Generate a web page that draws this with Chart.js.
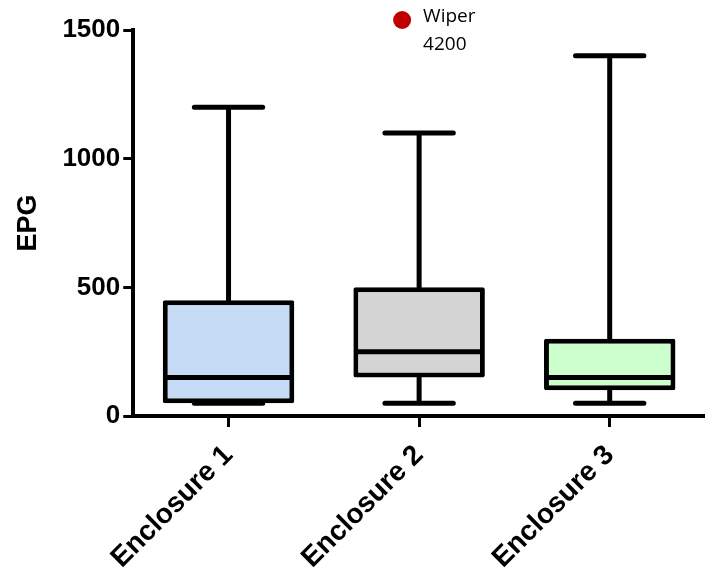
<!DOCTYPE html>
<html>
<head>
<meta charset="UTF-8">
<title>EPG by enclosure</title>
<script src="https://cdn.jsdelivr.net/npm/chart.js@4.4.1/dist/chart.umd.min.js"></script>
<style>
  html, body { margin: 0; padding: 0; background: #fff; }
  #wrap { width: 705px; height: 577px; }
</style>
</head>
<body>
<div id="wrap"><canvas id="chart"></canvas></div>
<script>
// box plot values (EPG)
var categories = ['Enclosure 1', 'Enclosure 2', 'Enclosure 3'];
var minValues = [50, 50, 50];
var q1Values = [50, 150, 100];
var medianValues = [150, 250, 150];
var q3Values = [450, 500, 300];
var maxValues = [1200, 1100, 1400];
var yTicks = [0, 500, 1000, 1500];
var boxColors = ['#c6dcf6', '#d4d4d4', '#ccffcc'];

// off-scale outlier, shown as a note above enclosure 2
var outlierIndex = 1;
var outlierValue = 4200;
var outlierName = 'Wiper';

var boxPlot = {
  id: 'boxPlot',
  beforeDatasetsDraw: function(chart) {
    var ctx = chart.ctx, x = chart.scales.x, y = chart.scales.y;
    var bars = chart.getDatasetMeta(0).data;
    ctx.save();
    ctx.strokeStyle = '#000';
    ctx.lineWidth = 5;
    ctx.lineCap = 'round';
    for (var i = 0; i < categories.length; i++) {
      var cx = x.getPixelForValue(i);
      var cap = bars[i].width * 0.26;
      var yMax = y.getPixelForValue(maxValues[i]);
      var yMin = y.getPixelForValue(minValues[i]);
      ctx.beginPath();
      ctx.moveTo(cx, yMax); ctx.lineTo(cx, y.getPixelForValue(q3Values[i]));
      ctx.moveTo(cx - cap, yMax); ctx.lineTo(cx + cap, yMax);
      ctx.moveTo(cx, yMin); ctx.lineTo(cx, y.getPixelForValue(q1Values[i]));
      ctx.moveTo(cx - cap, yMin); ctx.lineTo(cx + cap, yMin);
      ctx.stroke();
    }
    ctx.restore();
  },
  afterDatasetsDraw: function(chart) {
    var ctx = chart.ctx, y = chart.scales.y;
    var bars = chart.getDatasetMeta(0).data;
    ctx.save();
    ctx.strokeStyle = '#000';
    ctx.lineWidth = 5;
    for (var i = 0; i < categories.length; i++) {
      var b = bars[i];
      var my = y.getPixelForValue(medianValues[i]);
      ctx.beginPath();
      ctx.moveTo(b.x - b.width / 2 + 2, my);
      ctx.lineTo(b.x + b.width / 2 - 2, my);
      ctx.stroke();
    }
    // outlier note
    var ox = chart.scales.x.getPixelForValue(outlierIndex) - 17;
    var oy = chart.chartArea.top - 10;
    ctx.fillStyle = '#c00000';
    ctx.beginPath();
    ctx.arc(ox, oy, 9, 0, Math.PI * 2);
    ctx.fill();
    ctx.fillStyle = '#000';
    ctx.font = '19px "Open Sans"';
    ctx.textBaseline = 'middle';
    ctx.fillText(outlierName, ox + 21, oy - 3);
    ctx.fillText(String(outlierValue), ox + 21, oy + 25);
    ctx.restore();
  }
};

new Chart(document.getElementById('chart'), {
  type: 'bar',
  data: {
    labels: categories,
    datasets: [{
      data: categories.map(function(c, i) { return [q1Values[i], q3Values[i]]; }),
      backgroundColor: boxColors,
      borderColor: '#000',
      borderWidth: 5,
      borderSkipped: false,
      borderRadius: 2,
      barPercentage: 0.69,
      categoryPercentage: 1
    }]
  },
  options: {
    responsive: true,
    maintainAspectRatio: false,
    animation: false,
    layout: { padding: { top: 30, left: 12, right: 0, bottom: -10 } },
    plugins: { legend: { display: false }, tooltip: { enabled: false } },
    scales: {
      x: {
        offset: true,
        grid: { display: true, drawOnChartArea: false, offset: false, color: '#000', lineWidth: 3, tickLength: 11 },
        border: { display: true, color: '#000', width: 4 },
        ticks: {
          color: '#000', minRotation: 45, maxRotation: 45, padding: 12,
          font: { family: '"Liberation Sans", Arial, sans-serif', size: 28, weight: 'bold' }
        }
      },
      y: {
        min: 0, max: 1500,
        afterBuildTicks: function(axis) { axis.ticks = yTicks.map(function(v) { return { value: v }; }); },
        grid: { display: true, drawOnChartArea: false, color: '#000', lineWidth: 3, tickLength: 10 },
        border: { display: true, color: '#000', width: 4 },
        title: {
          display: true, text: 'EPG', color: '#000', padding: { top: 0, bottom: 15 },
          font: { family: '"Liberation Sans", Arial, sans-serif', size: 27, weight: 'bold' }
        },
        ticks: {
          color: '#000', padding: 3,
          callback: function(v) { return String(v); },
          font: { family: '"Liberation Sans", Arial, sans-serif', size: 26, weight: 'bold' }
        }
      }
    }
  },
  plugins: [boxPlot]
});
</script>
</body>
</html>
